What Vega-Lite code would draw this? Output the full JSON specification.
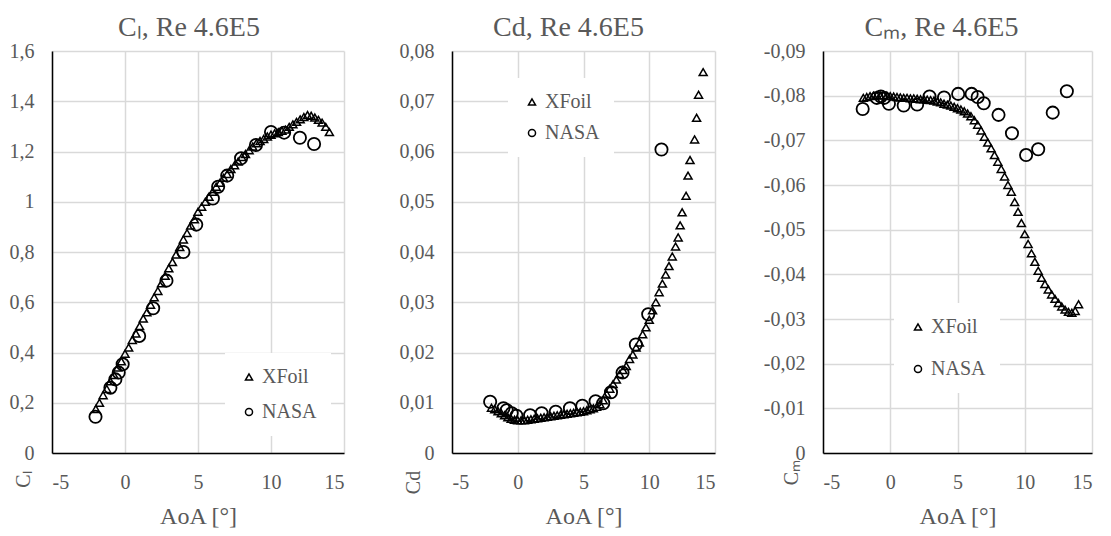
{
  "$schema": "https://vega.github.io/schema/vega-lite/v6.json",
  "padding": {"left": 9, "top": 14, "right": 5, "bottom": 5},
  "background": "white",
  "datasets": {
    "cl": [
      {"s":"XFoil","a":-2,"v":0.175},{"s":"XFoil","a":-1.75,"v":0.2},{"s":"XFoil","a":-1.5,"v":0.23},{"s":"XFoil","a":-1.25,"v":0.255},
      {"s":"XFoil","a":-1,"v":0.285},{"s":"XFoil","a":-0.75,"v":0.31},{"s":"XFoil","a":-0.5,"v":0.34},{"s":"XFoil","a":-0.25,"v":0.365},
      {"s":"XFoil","a":0,"v":0.395},{"s":"XFoil","a":0.25,"v":0.42},{"s":"XFoil","a":0.5,"v":0.45},{"s":"XFoil","a":0.75,"v":0.475},
      {"s":"XFoil","a":1,"v":0.505},{"s":"XFoil","a":1.25,"v":0.535},{"s":"XFoil","a":1.5,"v":0.56},{"s":"XFoil","a":1.75,"v":0.59},
      {"s":"XFoil","a":2,"v":0.62},{"s":"XFoil","a":2.25,"v":0.645},{"s":"XFoil","a":2.5,"v":0.675},{"s":"XFoil","a":2.75,"v":0.705},
      {"s":"XFoil","a":3,"v":0.735},{"s":"XFoil","a":3.25,"v":0.76},{"s":"XFoil","a":3.5,"v":0.79},{"s":"XFoil","a":3.75,"v":0.82},
      {"s":"XFoil","a":4,"v":0.85},{"s":"XFoil","a":4.25,"v":0.875},{"s":"XFoil","a":4.5,"v":0.905},{"s":"XFoil","a":4.75,"v":0.93},
      {"s":"XFoil","a":5,"v":0.96},{"s":"XFoil","a":5.25,"v":0.98},{"s":"XFoil","a":5.5,"v":1.0},{"s":"XFoil","a":5.75,"v":1.02},
      {"s":"XFoil","a":6,"v":1.04},{"s":"XFoil","a":6.25,"v":1.06},{"s":"XFoil","a":6.5,"v":1.075},{"s":"XFoil","a":6.75,"v":1.095},
      {"s":"XFoil","a":7,"v":1.11},{"s":"XFoil","a":7.25,"v":1.13},{"s":"XFoil","a":7.5,"v":1.145},{"s":"XFoil","a":7.75,"v":1.16},
      {"s":"XFoil","a":8,"v":1.178},{"s":"XFoil","a":8.25,"v":1.19},{"s":"XFoil","a":8.5,"v":1.205},{"s":"XFoil","a":8.75,"v":1.22},
      {"s":"XFoil","a":9,"v":1.233},{"s":"XFoil","a":9.25,"v":1.242},{"s":"XFoil","a":9.5,"v":1.25},{"s":"XFoil","a":9.75,"v":1.26},
      {"s":"XFoil","a":10,"v":1.267},{"s":"XFoil","a":10.25,"v":1.272},{"s":"XFoil","a":10.5,"v":1.277},{"s":"XFoil","a":10.75,"v":1.282},
      {"s":"XFoil","a":11,"v":1.287},{"s":"XFoil","a":11.25,"v":1.298},{"s":"XFoil","a":11.5,"v":1.308},{"s":"XFoil","a":11.75,"v":1.318},
      {"s":"XFoil","a":12,"v":1.328},{"s":"XFoil","a":12.25,"v":1.337},{"s":"XFoil","a":12.5,"v":1.345},{"s":"XFoil","a":12.75,"v":1.342},
      {"s":"XFoil","a":13,"v":1.335},{"s":"XFoil","a":13.25,"v":1.326},{"s":"XFoil","a":13.5,"v":1.315},{"s":"XFoil","a":13.75,"v":1.298},
      {"s":"XFoil","a":14,"v":1.277},
      {"s":"NASA","a":-2.02,"v":0.144},{"s":"NASA","a":-1.0,"v":0.26},{"s":"NASA","a":-0.66,"v":0.293},{"s":"NASA","a":-0.43,"v":0.32},
      {"s":"NASA","a":-0.16,"v":0.353},{"s":"NASA","a":0.97,"v":0.466},{"s":"NASA","a":1.93,"v":0.576},{"s":"NASA","a":2.84,"v":0.686},
      {"s":"NASA","a":4.0,"v":0.8},{"s":"NASA","a":4.88,"v":0.909},{"s":"NASA","a":6.02,"v":1.013},{"s":"NASA","a":6.38,"v":1.06},
      {"s":"NASA","a":7.0,"v":1.104},{"s":"NASA","a":7.95,"v":1.173},{"s":"NASA","a":8.97,"v":1.226},{"s":"NASA","a":10.0,"v":1.278},
      {"s":"NASA","a":10.9,"v":1.275},{"s":"NASA","a":11.98,"v":1.255},{"s":"NASA","a":12.95,"v":1.23}
    ],
    "cd": [
      {"s":"XFoil","a":-2,"v":0.009},{"s":"XFoil","a":-1.75,"v":0.0087},{"s":"XFoil","a":-1.5,"v":0.0083},{"s":"XFoil","a":-1.25,"v":0.0079},
      {"s":"XFoil","a":-1,"v":0.0075},{"s":"XFoil","a":-0.75,"v":0.0071},{"s":"XFoil","a":-0.5,"v":0.0068},{"s":"XFoil","a":-0.25,"v":0.0066},
      {"s":"XFoil","a":0,"v":0.0065},{"s":"XFoil","a":0.25,"v":0.0065},{"s":"XFoil","a":0.5,"v":0.0065},{"s":"XFoil","a":0.75,"v":0.0066},
      {"s":"XFoil","a":1,"v":0.0067},{"s":"XFoil","a":1.25,"v":0.0068},{"s":"XFoil","a":1.5,"v":0.0069},{"s":"XFoil","a":1.75,"v":0.007},
      {"s":"XFoil","a":2,"v":0.0071},{"s":"XFoil","a":2.25,"v":0.0072},{"s":"XFoil","a":2.5,"v":0.0073},{"s":"XFoil","a":2.75,"v":0.0074},
      {"s":"XFoil","a":3,"v":0.0075},{"s":"XFoil","a":3.25,"v":0.0076},{"s":"XFoil","a":3.5,"v":0.0077},{"s":"XFoil","a":3.75,"v":0.0078},
      {"s":"XFoil","a":4,"v":0.0079},{"s":"XFoil","a":4.25,"v":0.008},{"s":"XFoil","a":4.5,"v":0.0081},{"s":"XFoil","a":4.75,"v":0.0082},
      {"s":"XFoil","a":5,"v":0.0083},{"s":"XFoil","a":5.25,"v":0.0085},{"s":"XFoil","a":5.5,"v":0.0087},{"s":"XFoil","a":5.75,"v":0.0089},
      {"s":"XFoil","a":6,"v":0.0092},{"s":"XFoil","a":6.25,"v":0.0097},{"s":"XFoil","a":6.5,"v":0.0105},{"s":"XFoil","a":6.75,"v":0.0118},
      {"s":"XFoil","a":7,"v":0.0128},{"s":"XFoil","a":7.25,"v":0.0137},{"s":"XFoil","a":7.5,"v":0.0146},{"s":"XFoil","a":7.75,"v":0.0157},
      {"s":"XFoil","a":8,"v":0.0165},{"s":"XFoil","a":8.25,"v":0.0173},{"s":"XFoil","a":8.5,"v":0.0187},{"s":"XFoil","a":8.75,"v":0.0196},
      {"s":"XFoil","a":9,"v":0.021},{"s":"XFoil","a":9.25,"v":0.022},{"s":"XFoil","a":9.5,"v":0.0236},{"s":"XFoil","a":9.75,"v":0.025},
      {"s":"XFoil","a":10,"v":0.0265},{"s":"XFoil","a":10.25,"v":0.0284},{"s":"XFoil","a":10.5,"v":0.03},{"s":"XFoil","a":10.75,"v":0.032},
      {"s":"XFoil","a":11,"v":0.0337},{"s":"XFoil","a":11.25,"v":0.0355},{"s":"XFoil","a":11.5,"v":0.0372},{"s":"XFoil","a":11.75,"v":0.0391},
      {"s":"XFoil","a":12,"v":0.0411},{"s":"XFoil","a":12.2,"v":0.0429},{"s":"XFoil","a":12.35,"v":0.0453},{"s":"XFoil","a":12.5,"v":0.0479},
      {"s":"XFoil","a":12.8,"v":0.0512},{"s":"XFoil","a":12.95,"v":0.0552},{"s":"XFoil","a":13.1,"v":0.0583},{"s":"XFoil","a":13.45,"v":0.0624},
      {"s":"XFoil","a":13.6,"v":0.0667},{"s":"XFoil","a":13.75,"v":0.0713},{"s":"XFoil","a":14.1,"v":0.0758},
      {"s":"NASA","a":-2.1,"v":0.0102},{"s":"NASA","a":-1.09,"v":0.0089},{"s":"NASA","a":-0.84,"v":0.0085},{"s":"NASA","a":-0.46,"v":0.0079},
      {"s":"NASA","a":-0.1,"v":0.0074},{"s":"NASA","a":0.94,"v":0.0075},{"s":"NASA","a":1.82,"v":0.0079},{"s":"NASA","a":2.89,"v":0.0082},
      {"s":"NASA","a":3.97,"v":0.0089},{"s":"NASA","a":4.91,"v":0.0094},{"s":"NASA","a":5.92,"v":0.0103},{"s":"NASA","a":6.5,"v":0.0099},
      {"s":"NASA","a":7.09,"v":0.0121},{"s":"NASA","a":7.97,"v":0.016},{"s":"NASA","a":8.98,"v":0.0216},{"s":"NASA","a":9.92,"v":0.0276},
      {"s":"NASA","a":10.93,"v":0.0604}
    ],
    "cm": [
      {"s":"XFoil","a":-2,"v":-0.0795},{"s":"XFoil","a":-1.75,"v":-0.0797},{"s":"XFoil","a":-1.5,"v":-0.0799},{"s":"XFoil","a":-1.25,"v":-0.08},
      {"s":"XFoil","a":-1,"v":-0.0801},{"s":"XFoil","a":-0.75,"v":-0.0801},{"s":"XFoil","a":-0.5,"v":-0.0801},{"s":"XFoil","a":-0.25,"v":-0.08},
      {"s":"XFoil","a":0,"v":-0.0799},{"s":"XFoil","a":0.25,"v":-0.0798},{"s":"XFoil","a":0.5,"v":-0.0797},{"s":"XFoil","a":0.75,"v":-0.0796},
      {"s":"XFoil","a":1,"v":-0.0795},{"s":"XFoil","a":1.25,"v":-0.0795},{"s":"XFoil","a":1.5,"v":-0.0794},{"s":"XFoil","a":1.75,"v":-0.0794},
      {"s":"XFoil","a":2,"v":-0.0793},{"s":"XFoil","a":2.25,"v":-0.0792},{"s":"XFoil","a":2.5,"v":-0.0792},{"s":"XFoil","a":2.75,"v":-0.0791},
      {"s":"XFoil","a":3,"v":-0.079},{"s":"XFoil","a":3.25,"v":-0.0789},{"s":"XFoil","a":3.5,"v":-0.0787},{"s":"XFoil","a":3.75,"v":-0.0785},
      {"s":"XFoil","a":4,"v":-0.0782},{"s":"XFoil","a":4.25,"v":-0.078},{"s":"XFoil","a":4.5,"v":-0.0778},{"s":"XFoil","a":4.75,"v":-0.0775},
      {"s":"XFoil","a":5,"v":-0.0772},{"s":"XFoil","a":5.25,"v":-0.0769},{"s":"XFoil","a":5.5,"v":-0.0765},{"s":"XFoil","a":5.75,"v":-0.076},
      {"s":"XFoil","a":6,"v":-0.0754},{"s":"XFoil","a":6.25,"v":-0.0745},{"s":"XFoil","a":6.5,"v":-0.0735},{"s":"XFoil","a":6.75,"v":-0.0722},
      {"s":"XFoil","a":7,"v":-0.0708},{"s":"XFoil","a":7.25,"v":-0.0695},{"s":"XFoil","a":7.5,"v":-0.0682},{"s":"XFoil","a":7.75,"v":-0.0667},
      {"s":"XFoil","a":8,"v":-0.0652},{"s":"XFoil","a":8.25,"v":-0.0636},{"s":"XFoil","a":8.5,"v":-0.0619},{"s":"XFoil","a":8.75,"v":-0.06},
      {"s":"XFoil","a":9,"v":-0.0585},{"s":"XFoil","a":9.25,"v":-0.0562},{"s":"XFoil","a":9.5,"v":-0.054},{"s":"XFoil","a":9.75,"v":-0.0515},
      {"s":"XFoil","a":10,"v":-0.049},{"s":"XFoil","a":10.25,"v":-0.0468},{"s":"XFoil","a":10.5,"v":-0.0447},{"s":"XFoil","a":10.75,"v":-0.0428},
      {"s":"XFoil","a":11,"v":-0.0408},{"s":"XFoil","a":11.25,"v":-0.0392},{"s":"XFoil","a":11.5,"v":-0.0378},{"s":"XFoil","a":11.75,"v":-0.0366},
      {"s":"XFoil","a":12,"v":-0.0355},{"s":"XFoil","a":12.25,"v":-0.0345},{"s":"XFoil","a":12.5,"v":-0.0336},{"s":"XFoil","a":12.75,"v":-0.0328},
      {"s":"XFoil","a":13,"v":-0.0321},{"s":"XFoil","a":13.25,"v":-0.0316},{"s":"XFoil","a":13.5,"v":-0.0314},{"s":"XFoil","a":13.75,"v":-0.0318},
      {"s":"XFoil","a":14,"v":-0.0333},
      {"s":"NASA","a":-2.05,"v":-0.077},{"s":"NASA","a":-1.0,"v":-0.0795},{"s":"NASA","a":-0.7,"v":-0.0798},{"s":"NASA","a":-0.45,"v":-0.0795},
      {"s":"NASA","a":-0.1,"v":-0.0782},{"s":"NASA","a":1.0,"v":-0.0778},{"s":"NASA","a":2.0,"v":-0.078},{"s":"NASA","a":2.92,"v":-0.0798},
      {"s":"NASA","a":4.0,"v":-0.0796},{"s":"NASA","a":5.05,"v":-0.0804},{"s":"NASA","a":6.05,"v":-0.0804},{"s":"NASA","a":6.5,"v":-0.0797},
      {"s":"NASA","a":6.95,"v":-0.0783},{"s":"NASA","a":8.05,"v":-0.0757},{"s":"NASA","a":9.05,"v":-0.0716},{"s":"NASA","a":10.1,"v":-0.0667},
      {"s":"NASA","a":11.0,"v":-0.068},{"s":"NASA","a":12.08,"v":-0.0762},{"s":"NASA","a":13.13,"v":-0.081}
    ]
  },
  "hconcat": [
    {
      "width": 292, "height": 402,
      "title": {"text": "Cₗ, Re 4.6E5", "dx": -9, "font": "Liberation Serif", "fontSize": 28, "fontWeight": "normal", "color": "#595959"},
      "data": {"name": "cl"},
      "encoding": {
        "x": {"field": "a", "type": "quantitative", "scale": {"domain": [-5, 15], "nice": false, "zero": false},
              "axis": {"values": [-5, 0, 5, 10, 15], "title": "AoA [°]", "labelExpr": "toString(datum.value)"}},
        "y": {"field": "v", "type": "quantitative", "scale": {"domain": [0, 1.6], "nice": false},
              "axis": {"values": [0, 0.2, 0.4, 0.6, 0.8, 1, 1.2, 1.4, 1.6], "title": "Cₗ", "titleX": -29, "titleY": 428,
                       "labelExpr": "replace(toString(datum.value), '.', ',')"}},
        "shape": {"field": "s", "type": "nominal", "scale": {"domain": ["XFoil", "NASA"], "range": ["triangle-up", "circle"]},
                  "legend": {"title": null, "orient": "none", "legendX": 173, "legendY": 302, "rowPadding": 15,
                             "labelFont": "Liberation Serif", "labelFontSize": 20, "labelColor": "#595959"}}
      },
      "layer": [
        {"transform": [{"filter": "datum.s === 'XFoil'"}],
         "mark": {"type": "point", "filled": false, "color": "black", "opacity": 1, "strokeWidth": 1.5, "size": 64}},
        {"transform": [{"filter": "datum.s === 'NASA'"}],
         "mark": {"type": "point", "filled": false, "color": "black", "opacity": 1, "strokeWidth": 1.8, "size": 150}}
      ]
    },
    {
      "width": 263, "height": 402,
      "title": {"text": "Cd, Re 4.6E5", "dx": -15, "font": "Liberation Serif", "fontSize": 28, "fontWeight": "normal", "color": "#595959"},
      "data": {"name": "cd"},
      "encoding": {
        "x": {"field": "a", "type": "quantitative", "scale": {"domain": [-5, 15], "nice": false, "zero": false},
              "axis": {"values": [-5, 0, 5, 10, 15], "title": "AoA [°]", "labelExpr": "toString(datum.value)"}},
        "y": {"field": "v", "type": "quantitative", "scale": {"domain": [0, 0.08], "nice": false},
              "axis": {"values": [0, 0.01, 0.02, 0.03, 0.04, 0.05, 0.06, 0.07, 0.08], "title": "Cd", "titleX": -39, "titleY": 431,
                       "labelExpr": "replace(toString(datum.value), '.', ',')"}},
        "shape": {"field": "s", "type": "nominal", "scale": {"domain": ["XFoil", "NASA"], "range": ["triangle-up", "circle"]},
                  "legend": {"title": null, "orient": "none", "legendX": 56, "legendY": 27, "rowPadding": 11,
                             "labelFont": "Liberation Serif", "labelFontSize": 20, "labelColor": "#595959"}}
      },
      "layer": [
        {"transform": [{"filter": "datum.s === 'XFoil'"}],
         "mark": {"type": "point", "filled": false, "color": "black", "opacity": 1, "strokeWidth": 1.5, "size": 64}},
        {"transform": [{"filter": "datum.s === 'NASA'"}],
         "mark": {"type": "point", "filled": false, "color": "black", "opacity": 1, "strokeWidth": 1.8, "size": 150}}
      ]
    },
    {
      "width": 269, "height": 402,
      "title": {"text": "Cₘ, Re 4.6E5", "dx": -16, "font": "Liberation Serif", "fontSize": 28, "fontWeight": "normal", "color": "#595959"},
      "data": {"name": "cm"},
      "encoding": {
        "x": {"field": "a", "type": "quantitative", "scale": {"domain": [-5, 15], "nice": false, "zero": false},
              "axis": {"values": [-5, 0, 5, 10, 15], "title": "AoA [°]", "labelExpr": "toString(datum.value)"}},
        "y": {"field": "v", "type": "quantitative", "scale": {"domain": [-0.09, 0], "nice": false, "reverse": true},
              "axis": {"values": [0, -0.01, -0.02, -0.03, -0.04, -0.05, -0.06, -0.07, -0.08, -0.09], "title": "Cₘ", "titleX": -32, "titleY": 421,
                       "labelExpr": "replace(toString(datum.value), '.', ',')"}},
        "shape": {"field": "s", "type": "nominal", "scale": {"domain": ["XFoil", "NASA"], "range": ["triangle-up", "circle"]},
                  "legend": {"title": null, "orient": "none", "legendX": 71, "legendY": 252, "rowPadding": 22,
                             "labelFont": "Liberation Serif", "labelFontSize": 20, "labelColor": "#595959"}}
      },
      "layer": [
        {"transform": [{"filter": "datum.s === 'XFoil'"}],
         "mark": {"type": "point", "filled": false, "color": "black", "opacity": 1, "strokeWidth": 1.5, "size": 64}},
        {"transform": [{"filter": "datum.s === 'NASA'"}],
         "mark": {"type": "point", "filled": false, "color": "black", "opacity": 1, "strokeWidth": 1.8, "size": 150}}
      ]
    }
  ],
  "spacing": 108,
  "bounds": "flush",
  "align": "each",
  "resolve": {
    "scale": {"x": "independent", "y": "independent", "shape": "independent"},
    "legend": {"shape": "independent"},
    "axis": {"x": "independent", "y": "independent"}
  },
  "config": {
    "view": {"stroke": null},
    "font": "Liberation Serif",
    "title": {"font": "Liberation Serif", "fontSize": 28, "fontWeight": "normal", "color": "#595959", "frame": "group", "baseline": "alphabetic", "offset": -1, "anchor": "middle"},
    "axis": {
      "labelFont": "Liberation Serif", "labelFontSize": 20, "labelColor": "#595959",
      "titleFont": "Liberation Serif", "titleFontWeight": "normal", "titleColor": "#595959",
      "gridColor": "#d9d9d9", "gridWidth": 1.5, "domainColor": "black", "domainWidth": 1.5,
      "ticks": false, "labelPadding": 19
    },
    "axisX": {"titleFontSize": 24, "titleBaseline": "alphabetic", "titleY": 70},
    "axisY": {"titleFontSize": 20, "titleAngle": 270, "titleAlign": "center", "titleBaseline": "middle", "labelPadding": 18},
    "legend": {
      "labelFont": "Liberation Serif", "labelFontSize": 20, "labelColor": "#595959",
      "symbolSize": 50, "symbolStrokeWidth": 1.5, "symbolStrokeColor": "black", "fillColor": "white",
      "padding": 14, "labelOffset": 3
    }
  }
}
